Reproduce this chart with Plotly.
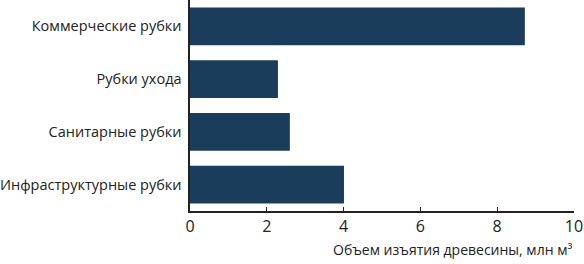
import plotly.graph_objects as go

categories = ["Коммерческие рубки", "Рубки ухода", "Санитарные рубки", "Инфраструктурные рубки"]
values = [8.72, 2.29, 2.6, 4.01]
x_ticks = [0, 2, 4, 6, 8, 10]
x_title = "Объем изъятия древесины, млн м³"

fig = go.Figure(go.Bar(
    y=categories, x=values, orientation="h",
    marker=dict(color="#1b3d5c", line=dict(width=0)),
))
fig.update_layout(
    width=584, height=264,
    margin=dict(l=190, r=10, t=0, b=53),
    paper_bgcolor="white", plot_bgcolor="white",
    bargap=0.28,
    font=dict(family="Open Sans", size=14, color="#222"),
    showlegend=False,
)
fig.update_xaxes(
    range=[0, 10], tickvals=x_ticks, showgrid=False, zeroline=False,
    showline=True, linecolor="#222", linewidth=1.5,
    ticks="inside", ticklen=4, tickcolor="#222",
    tickfont=dict(size=16),
)
fig.update_yaxes(
    categoryorder="array", categoryarray=categories[::-1],
    showgrid=False, zeroline=False, showline=True, linecolor="#222", linewidth=1.5,
    ticks="", ticksuffix=" ", tickfont=dict(size=14.5),
)
fig.add_annotation(
    text=x_title, xref="paper", yref="paper", x=1.0, y=0, yshift=-27,
    xanchor="right", yanchor="top", showarrow=False, font=dict(size=14, color="#222"),
)
fig.write_html("out.html", config={"displayModeBar": False},
               post_script="document.body.style.margin='0';document.body.style.overflow='hidden';")
